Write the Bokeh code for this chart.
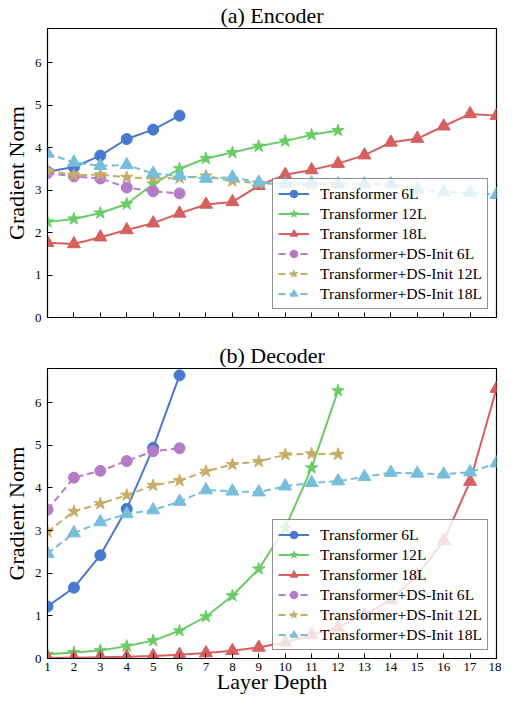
from bokeh.plotting import figure
from bokeh.models import Legend, LegendItem, Range1d, FixedTicker
from bokeh.layouts import column
from bokeh.embed import file_html
from bokeh.resources import INLINE

# ---------------- data ----------------
layers6 = [1, 2, 3, 4, 5, 6]
layers12 = list(range(1, 13))
layers18 = list(range(1, 19))

enc_t6 = [3.43, 3.54, 3.81, 4.20, 4.42, 4.75]
enc_t12 = [2.25, 2.32, 2.46, 2.67, 3.14, 3.50, 3.74, 3.88, 4.03, 4.15, 4.30, 4.40]
enc_t18 = [1.76, 1.73, 1.89, 2.06, 2.22, 2.45, 2.66, 2.72, 3.10, 3.36, 3.47, 3.62,
           3.82, 4.12, 4.21, 4.50, 4.79, 4.75]
enc_ds6 = [3.40, 3.32, 3.27, 3.06, 2.97, 2.92]
enc_ds12 = [3.46, 3.35, 3.36, 3.30, 3.27, 3.28, 3.33, 3.21, 3.16, 3.14, 3.13, 3.13]
enc_ds18 = [3.86, 3.65, 3.57, 3.59, 3.39, 3.33, 3.27, 3.30, 3.18, 3.14, 3.16, 3.14,
            3.14, 3.14, 3.02, 2.95, 2.94, 2.89]

dec_t6 = [1.22, 1.66, 2.42, 3.51, 4.94, 6.64]
dec_t12 = [0.10, 0.14, 0.19, 0.29, 0.42, 0.65, 0.98, 1.47, 2.10, 3.06, 4.47, 6.28]
dec_t18 = [0.02, 0.02, 0.03, 0.04, 0.06, 0.09, 0.13, 0.18, 0.26, 0.38, 0.55, 0.73,
           1.03, 1.37, 1.95, 2.76, 4.15, 6.33]
dec_ds6 = [3.49, 4.24, 4.40, 4.63, 4.86, 4.93]
dec_ds12 = [2.97, 3.45, 3.63, 3.83, 4.06, 4.17, 4.39, 4.55, 4.62, 4.78, 4.80, 4.79]
dec_ds18 = [2.46, 2.94, 3.20, 3.39, 3.48, 3.68, 3.95, 3.92, 3.90, 4.04, 4.12, 4.16,
            4.26, 4.36, 4.34, 4.32, 4.37, 4.58]

labels = ["Transformer 6L", "Transformer 12L", "Transformer 18L",
          "Transformer+DS-Init 6L", "Transformer+DS-Init 12L", "Transformer+DS-Init 18L"]
colors = ["#4878CF", "#6ACC65", "#D65F5F", "#B47CC7", "#C4AD66", "#77BEDB"]
markers = ["circle", "star", "triangle", "circle", "star", "triangle"]
msizes = [11, 13, 13, 11, 13, 13]
dashes = ["solid", "solid", "solid", "7 4", "7 4", "7 4"]

FONT = "Liberation Serif"


def make_fig(title, series, height, top, bottom, show_xlabels):
    p = figure(width=501, height=height, output_backend="svg", toolbar_location=None,
               x_range=Range1d(1, 18), y_range=Range1d(0, 6.8),
               min_border_left=44, min_border_right=5,
               min_border_top=top, min_border_bottom=bottom)
    p.title.text = title
    p.title.align = "center"
    p.title.text_font = FONT
    p.title.text_font_size = "22px"
    p.title.text_font_style = "normal"
    p.title.text_color = "black"
    p.title.standoff = 1
    p.grid.visible = False
    p.outline_line_color = "black"
    p.outline_line_width = 1.2
    p.background_fill_color = "white"
    p.border_fill_color = "white"

    for ax in (p.xaxis[0], p.yaxis[0]):
        ax.major_tick_in = 5
        ax.major_tick_out = 0
        ax.minor_tick_line_color = None
        ax.axis_line_color = "black"
        ax.major_tick_line_color = "black"
        ax.major_label_text_font = FONT
        ax.major_label_text_font_size = "13px"
        ax.major_label_text_color = "black"
        ax.axis_label_text_font = FONT
        ax.axis_label_text_font_size = "22px"
        ax.axis_label_text_font_style = "normal"
        ax.axis_label_text_color = "black"
    p.xaxis.ticker = FixedTicker(ticks=layers18)
    p.yaxis.ticker = FixedTicker(ticks=[0, 1, 2, 3, 4, 5, 6])
    p.yaxis.axis_label = "Gradient Norm"
    p.yaxis.major_label_standoff = 6
    p.yaxis.axis_label_standoff = 3
    if show_xlabels:
        p.xaxis.axis_label = "Layer Depth"
        p.xaxis.major_label_standoff = 4
        p.xaxis.axis_label_standoff = -5
    else:
        p.xaxis.major_label_overrides = {t: "" for t in layers18}
        p.xaxis.major_label_standoff = 0

    items = []
    xs_list = [layers6, layers12, layers18, layers6, layers12, layers18]
    for i, (xs, ys) in enumerate(zip(xs_list, series)):
        lr = p.line(xs, ys, line_color=colors[i], line_width=2, line_dash=dashes[i])
        sr = p.scatter(xs, ys, marker=markers[i], size=msizes[i],
                       fill_color=colors[i], line_color=colors[i])
        items.append(LegendItem(label=labels[i], renderers=[lr, sr]))

    leg = Legend(items=items, location="bottom_right")
    leg.label_text_font = FONT
    leg.label_text_font_size = "15.6px"
    leg.label_text_color = "black"
    leg.glyph_width = 31
    leg.glyph_height = 19
    leg.label_height = 19
    leg.spacing = 1
    leg.padding = 5
    leg.label_standoff = 11
    leg.margin = 8
    leg.border_line_color = "#222222"
    leg.border_line_width = 1.2
    leg.background_fill_color = "white"
    leg.background_fill_alpha = 0.8
    leg.click_policy = "none"
    p.add_layout(leg, "center")
    return p


p1 = make_fig("(a) Encoder", [enc_t6, enc_t12, enc_t18, enc_ds6, enc_ds12, enc_ds18],
              333, 27, 16, False)
p2 = make_fig("(b) Decoder", [dec_t6, dec_t12, dec_t18, dec_ds6, dec_ds12, dec_ds18],
              364, 35, 39, True)

layout = column(p1, p2, spacing=0)
open("out.html", "w").write(file_html(layout, INLINE))
